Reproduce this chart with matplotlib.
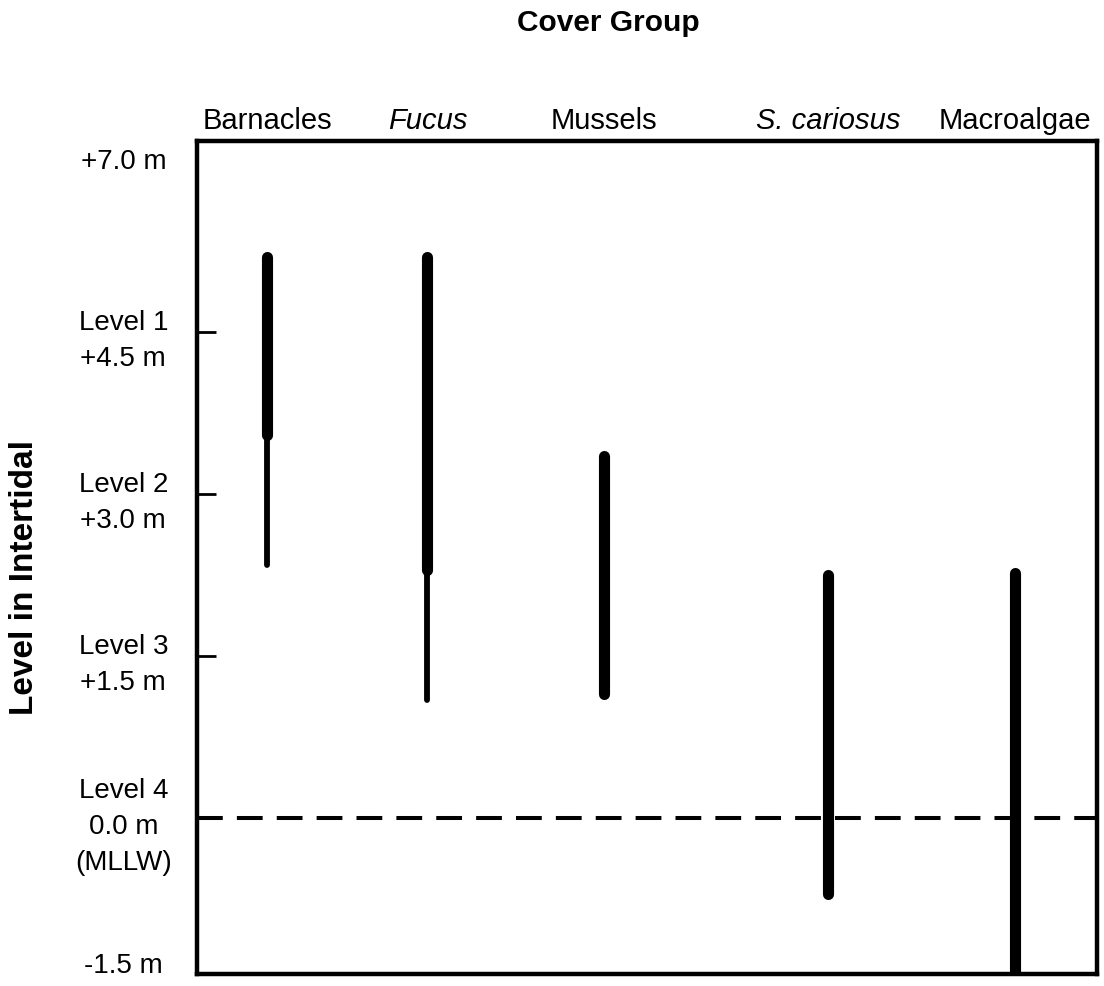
import matplotlib
matplotlib.use("Agg")
import matplotlib.pyplot as plt

plt.rcParams['font.family'] = ['Liberation Sans', 'DejaVu Sans']

# cover groups and their vertical ranges in the intertidal (m above MLLW)
groups = ['Barnacles', 'Fucus', 'Mussels', 'S. cariosus', 'Macroalgae']
italic = [False, True, False, True, False]
group_x = [0.078, 0.256, 0.452, 0.701, 0.909]

# dense (thick) range and sparse (thin) range, (low, high)
dense_low = [3.55, 2.30, 1.15, -0.70, -1.50]
dense_high = [5.20, 5.20, 3.35, 2.25, 2.27]
sparse_low = [2.35, 1.10, None, None, None]

ytick_pos = [6.11, 4.5, 3.0, 1.5, 0.0, -1.33]
ytick_labels = ['+7.0 m', 'Level 1\n+4.5 m', 'Level 2\n+3.0 m',
                'Level 3\n+1.5 m', 'Level 4\n0.0 m\n(MLLW)', '-1.5 m']

fig = plt.figure(figsize=(11.04, 9.87), dpi=100)
ax = fig.add_axes([0.1784, 0.0122, 0.8153, 0.8439])

# MLLW reference line
ax.axhline(0.0, color='black', lw=2.9, linestyle=(0, (6.4, 3.5)), zorder=1)

for i in range(len(groups)):
    x = group_x[i]
    if sparse_low[i] is not None:
        ax.plot([x, x], [sparse_low[i], dense_low[i]], color='black',
                lw=4.2, solid_capstyle='round', zorder=2)
    ax.plot([x, x], [dense_low[i], dense_high[i]], color='black',
            lw=8, solid_capstyle='round', zorder=3)

ax.set_xlim(0, 1)
ax.set_ylim(-1.44, 6.27)

# category labels along the top
ax.xaxis.tick_top()
ax.set_xticks(group_x)
ax.set_xticklabels(groups, fontsize=21)
for lbl, it in zip(ax.get_xticklabels(), italic):
    if it:
        lbl.set_style('italic')
ax.tick_params(axis='x', length=0, pad=5)

ax.set_yticks(ytick_pos)
ax.set_yticklabels(ytick_labels, fontsize=20, multialignment='center',
                   ha='center', linespacing=1.5)
ax.tick_params(axis='y', direction='in', length=14, width=2, pad=53)
yt = ax.yaxis.get_major_ticks()
yt[0].tick1line.set_visible(False)
yt[-1].tick1line.set_visible(False)

for s in ax.spines.values():
    s.set_linewidth(3.2)

fig.text(0.551, 0.977, 'Cover Group', fontsize=21.5, fontweight='bold',
         ha='center', va='center')
fig.text(0.022, 0.415, 'Level in Intertidal', fontsize=24, fontweight='bold',
         rotation=90, ha='center', va='center')

fig.savefig('out.png', dpi=100)
